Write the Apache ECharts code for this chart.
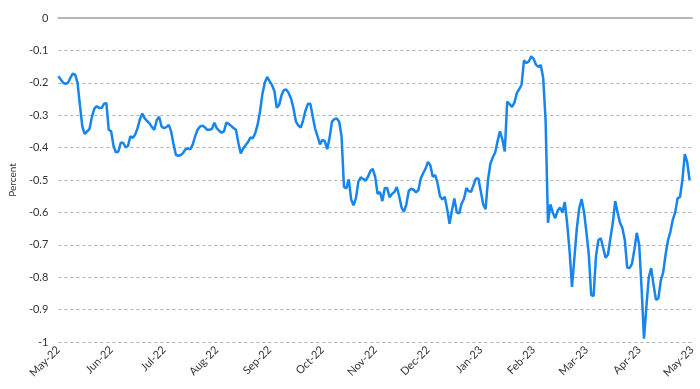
<!DOCTYPE html>
<html>
<head>
<meta charset="utf-8">
<script src="https://cdn.jsdelivr.net/npm/echarts@6/dist/echarts.min.js"></script>
<style>html,body{margin:0;padding:0;background:#fff}#c{width:700px;height:389px}</style>
</head>
<body>
<div id="c"></div>
<script>
// Month tick labels (one every 22 business-day slots)
var tickLabels = ['May-22','Jun-22','Jul-22','Aug-22','Sep-22','Oct-22','Nov-22','Dec-22','Jan-23','Feb-23','Mar-23','Apr-23','May-23'];
var slotsPerMonth = 22;

// Daily values, percent
var values = [
-0.18,-0.19,-0.20,-0.203,-0.20,-0.185,-0.172,-0.175,-0.20,-0.27,
-0.335,-0.358,-0.35,-0.342,-0.305,-0.28,-0.272,-0.278,-0.278,-0.265,
-0.262,-0.345,-0.35,-0.395,-0.415,-0.412,-0.385,-0.385,-0.399,-0.395,
-0.365,-0.37,-0.36,-0.34,-0.312,-0.295,-0.31,-0.318,-0.325,-0.337,
-0.345,-0.315,-0.305,-0.335,-0.34,-0.337,-0.33,-0.35,-0.39,-0.423,
-0.425,-0.423,-0.416,-0.405,-0.403,-0.405,-0.39,-0.365,-0.345,-0.335,
-0.332,-0.337,-0.345,-0.345,-0.342,-0.323,-0.34,-0.348,-0.354,-0.35,
-0.323,-0.327,-0.333,-0.34,-0.345,-0.385,-0.418,-0.403,-0.393,-0.383,
-0.369,-0.371,-0.356,-0.33,-0.29,-0.235,-0.20,-0.182,-0.195,-0.207,
-0.225,-0.277,-0.268,-0.238,-0.222,-0.221,-0.232,-0.25,-0.28,-0.32,
-0.332,-0.338,-0.315,-0.285,-0.265,-0.265,-0.305,-0.342,-0.365,-0.39,
-0.376,-0.38,-0.405,-0.37,-0.32,-0.312,-0.31,-0.32,-0.365,-0.521,
-0.526,-0.498,-0.56,-0.578,-0.555,-0.505,-0.492,-0.497,-0.502,-0.49,
-0.472,-0.466,-0.49,-0.543,-0.537,-0.565,-0.525,-0.525,-0.553,-0.543,
-0.537,-0.522,-0.55,-0.585,-0.598,-0.575,-0.533,-0.527,-0.53,-0.538,
-0.531,-0.495,-0.479,-0.465,-0.444,-0.455,-0.49,-0.485,-0.51,-0.55,
-0.56,-0.552,-0.59,-0.635,-0.593,-0.557,-0.60,-0.603,-0.573,-0.558,
-0.525,-0.535,-0.536,-0.515,-0.495,-0.495,-0.535,-0.575,-0.59,-0.50,
-0.45,-0.43,-0.415,-0.38,-0.35,-0.375,-0.412,-0.258,-0.266,-0.274,
-0.262,-0.232,-0.22,-0.206,-0.131,-0.139,-0.134,-0.118,-0.126,-0.144,
-0.151,-0.145,-0.185,-0.315,-0.632,-0.575,-0.60,-0.618,-0.595,-0.585,
-0.60,-0.568,-0.635,-0.72,-0.83,-0.74,-0.65,-0.588,-0.559,-0.598,
-0.66,-0.73,-0.855,-0.858,-0.735,-0.685,-0.68,-0.71,-0.74,-0.73,
-0.68,-0.632,-0.565,-0.60,-0.632,-0.648,-0.685,-0.77,-0.772,-0.758,
-0.715,-0.663,-0.70,-0.835,-0.99,-0.89,-0.80,-0.772,-0.825,-0.87,
-0.865,-0.81,-0.785,-0.73,-0.686,-0.66,-0.622,-0.60,-0.556,-0.553,
-0.50,-0.42,-0.445,-0.50
];

var slotCount = (tickLabels.length - 1) * slotsPerMonth + 1;
var categories = [];
for (var i = 0; i < slotCount; i++) categories.push(String(i));

var font = 'Lato, "Open Sans", sans-serif';
var chart = echarts.init(document.getElementById('c'), null, {renderer: 'canvas'});
chart.setOption({
  animation: false,
  grid: {left: 52, right: 8, top: 18, bottom: 47, containLabel: false},
  xAxis: {
    type: 'category',
    data: categories,
    boundaryGap: false,
    axisLine: {show: true, lineStyle: {color: '#b8b8bc', width: 2}},
    axisTick: {show: false},
    splitLine: {show: false},
    axisLabel: {
      interval: slotsPerMonth - 1,
      rotate: 45,
      margin: 6,
      fontFamily: font,
      fontSize: 11,
      color: '#333',
      formatter: function (v, idx) {
        var m = Math.round(idx / slotsPerMonth);
        return tickLabels[m] || '';
      }
    }
  },
  yAxis: {
    type: 'value',
    min: -1,
    max: 0,
    interval: 0.1,
    name: 'Percent',
    nameLocation: 'middle',
    nameRotate: 90,
    nameGap: 40,
    nameTextStyle: {fontFamily: font, fontSize: 10, color: '#333'},
    axisLine: {show: false},
    axisTick: {show: false},
    axisLabel: {
      margin: 10,
      fontFamily: font,
      fontSize: 11,
      color: '#333',
      formatter: function (v) { return String(Math.round(v * 10) / 10); }
    },
    splitLine: {show: true, lineStyle: {color: '#b0b0b0', type: [3, 3], width: 1}}
  },
  series: [{
    type: 'line',
    data: values,
    showSymbol: false,
    symbol: 'none',
    lineStyle: {color: '#1685ee', width: 2.5},
    itemStyle: {color: '#1685ee'}
  }]
});
</script>
</body>
</html>
